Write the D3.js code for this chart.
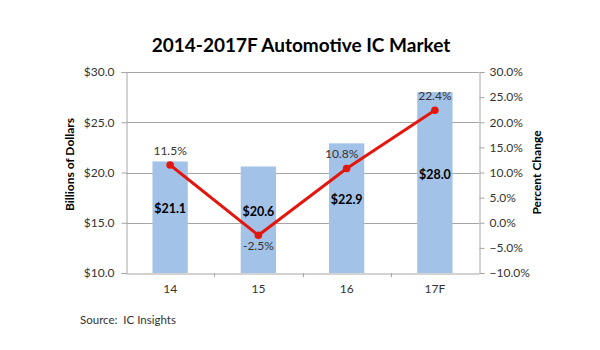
<!DOCTYPE html>
<html><head><meta charset="utf-8">
<script src="https://cdn.jsdelivr.net/npm/d3@7"></script>
<style>
body{margin:0;background:#fff;}
svg{display:block;font-family:Lato,"Open Sans",sans-serif;}
</style></head>
<body><svg id="c" width="600" height="350"></svg>
<script>
const categories = ["14", "15", "16", "17F"];
const revenue = [21.1, 20.6, 22.9, 28.0];
const revenueLabels = ["$21.1", "$20.6", "$22.9", "$28.0"];
const pctChange = [11.5, -2.5, 10.8, 22.4];
const pctLabels = ["11.5%", "-2.5%", "10.8%", "22.4%"];
const leftTicks = [10, 15, 20, 25, 30];
const rightTicks = [-10, -5, 0, 5, 10, 15, 20, 25, 30];
const title = "2014-2017F Automotive IC Market";
const leftTitle = "Billions of Dollars";
const rightTitle = "Percent Change";
const source = "Source:  IC Insights";

const svg = d3.select("#c");
const m = {l:126, r:479, t:72, b:273};
const x = d3.scaleBand().domain(categories).range([m.l, m.r]).paddingInner(0.6).paddingOuter(0.3);
const xb = d3.scaleBand().domain(categories).range([m.l, m.r]);
const yL = d3.scaleLinear().domain([10, 30]).range([m.b, m.t]);
const yR = d3.scaleLinear().domain([-10, 30]).range([m.b, m.t]);
const grey = "#a6a6a6";
const txt = "#333";

svg.append("text").attr("x", 301).attr("y", 52).attr("text-anchor", "middle")
  .attr("font-size", 19).attr("font-weight", "bold").attr("fill", "#000").text(title);

// gridlines
svg.append("g").selectAll("line").data(leftTicks.slice(1)).join("line")
  .attr("x1", m.l).attr("x2", m.r).attr("y1", d => Math.round(yL(d)) + 0.5).attr("y2", d => Math.round(yL(d)) + 0.5)
  .attr("stroke", grey).attr("stroke-width", 1);

// bars
svg.append("g").selectAll("rect").data(revenue).join("rect")
  .attr("x", (d, i) => x(categories[i])).attr("width", x.bandwidth())
  .attr("y", d => yL(d)).attr("height", d => yL(10) - yL(d)).attr("fill", "#a3c2e8");

// left axis
const gL = svg.append("g").attr("transform", `translate(${m.l + 0.5},0)`)
  .call(d3.axisLeft(yL).tickValues(leftTicks).tickSize(5).tickPadding(7).tickFormat(d => "$" + d3.format(".1f")(d)));
// right axis
const gR = svg.append("g").attr("transform", `translate(${m.r + 0.5},0)`)
  .call(d3.axisRight(yR).tickValues(rightTicks).tickSize(5).tickPadding(5).tickFormat(d => d3.format(".1f")(d) + "%"));
// bottom axis
const gB = svg.append("g").attr("transform", `translate(0,${m.b + 0.5})`)
  .call(d3.axisBottom(xb).tickSize(0).tickPadding(11));
svg.append("g").selectAll("line").data(categories.slice(1)).join("line")
  .attr("x1", d => Math.round(xb(d)) + 0.5).attr("x2", d => Math.round(xb(d)) + 0.5)
  .attr("y1", m.b).attr("y2", m.b + 4).attr("stroke", grey);

[gL, gR, gB].forEach(g => {
  g.select(".domain").attr("stroke", grey);
  g.selectAll(".tick line").attr("stroke", grey);
  g.selectAll(".tick text").attr("font-size", 12).attr("fill", txt).attr("font-family", "Lato, sans-serif");
});

// line
const cx = (i) => x(categories[i]) + x.bandwidth() / 2;
const line = d3.line().x((d, i) => cx(i)).y(d => yR(d));
svg.append("path").datum(pctChange).attr("d", line).attr("fill", "none")
  .attr("stroke", "#e3170e").attr("stroke-width", 3);
svg.append("g").selectAll("circle").data(pctChange).join("circle")
  .attr("cx", (d, i) => cx(i)).attr("cy", d => yR(d)).attr("r", 3.8).attr("fill", "#e3170e");

// value labels
svg.append("g").selectAll("text").data(revenue).join("text")
  .attr("x", (d, i) => cx(i)).attr("y", d => (yL(d) + yL(10)) / 2 - 4)
  .attr("text-anchor", "middle").attr("font-size", 12.5).attr("font-weight", "bold").attr("fill", "#000")
  .text((d, i) => revenueLabels[i]);
svg.append("g").selectAll("text").data(pctChange).join("text")
  .attr("x", (d, i) => cx(i) - (i === 2 ? 5 : 0)).attr("y", d => d < 0 ? yR(d) + 15 : yR(d) - 10)
  .attr("text-anchor", "middle").attr("font-size", 12).attr("fill", txt)
  .text((d, i) => pctLabels[i]);

// axis titles
svg.append("text").attr("transform", `translate(74,${(m.t + m.b) / 2 - 8}) rotate(-90)`)
  .attr("text-anchor", "middle").attr("font-size", 12).attr("font-weight", "bold").attr("fill", "#000").text(leftTitle);
svg.append("text").attr("transform", `translate(541,${(m.t + m.b) / 2}) rotate(-90)`)
  .attr("text-anchor", "middle").attr("font-size", 12).attr("font-weight", "bold").attr("fill", "#000").text(rightTitle);

svg.append("text").attr("x", 80).attr("y", 324).attr("font-size", 11.5).attr("fill", txt)
  .attr("xml:space", "preserve").style("white-space", "pre").text(source);
</script></body></html>
